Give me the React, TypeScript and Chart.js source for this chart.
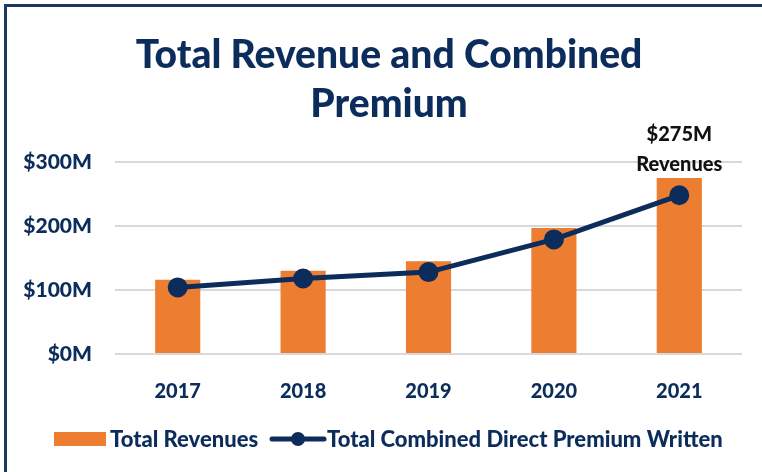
import React, { useEffect, useRef } from "react";
import { Chart, registerables } from "chart.js";

Chart.register(...registerables);

const years = ["2017", "2018", "2019", "2020", "2021"];
const totalRevenues = [116, 130, 145, 197, 275];
const combinedPremium = [104, 118, 128, 179, 248];
const yTicks = [0, 100, 200, 300];
const titleLines = ["Total Revenue and Combined", "Premium"];
const annotationLines = ["$275M", "Revenues"];
const legendLabels = ["Total Revenues", "Total Combined Direct Premium Written"];

const NAVY = "#0c2d5c";
const ORANGE = "#ed7d31";
const FONT = "Lato, 'Open Sans', sans-serif";
const W = "900";

const decorPlugin = {
  id: "decor",
  afterDraw(chart: any) {
    const ctx = chart.ctx;
    ctx.save();
    // Title
    ctx.fillStyle = NAVY;
    ctx.font = `${W} 39px ${FONT}`;
    ctx.textAlign = "center";
    ctx.textBaseline = "alphabetic";
    ctx.fillText(titleLines[0], 389, 68);
    ctx.fillText(titleLines[1], 389, 117);

    // Annotation above last bar
    const meta = chart.getDatasetMeta(0);
    const last = meta.data[meta.data.length - 1];
    ctx.fillStyle = "#111111";
    ctx.font = `${W} 20px ${FONT}`;
    ctx.fillText(annotationLines[0], last.x, last.y - 37);
    ctx.fillText(annotationLines[1], last.x, last.y - 7);

    // Legend
    const ly = 439;
    ctx.fillStyle = ORANGE;
    ctx.fillRect(54, 432, 52, 14);
    ctx.fillStyle = NAVY;
    ctx.font = `${W} 22px ${FONT}`;
    ctx.textAlign = "left";
    ctx.textBaseline = "middle";
    ctx.fillText(legendLabels[0], 110, ly + 1);
    ctx.strokeStyle = NAVY;
    ctx.lineWidth = 5;
    ctx.lineCap = "round";
    ctx.beginPath();
    ctx.moveTo(272, ly);
    ctx.lineTo(324, ly);
    ctx.stroke();
    ctx.beginPath();
    ctx.arc(298, ly, 7, 0, Math.PI * 2);
    ctx.fillStyle = NAVY;
    ctx.fill();
    ctx.fillText(legendLabels[1], 327, ly + 1);
    ctx.restore();
  },
};

export default function App() {
  const ref = useRef<HTMLCanvasElement>(null);
  useEffect(() => {
    if (!ref.current) return;
    const chart = new Chart(ref.current, {
      type: "bar",
      data: {
        labels: years,
        datasets: [
          {
            type: "bar",
            label: legendLabels[0],
            data: totalRevenues,
            backgroundColor: ORANGE,
            barPercentage: 0.36,
            categoryPercentage: 1,
            order: 2,
          },
          {
            type: "line",
            label: legendLabels[1],
            data: combinedPremium,
            borderColor: NAVY,
            backgroundColor: NAVY,
            borderWidth: 5,
            pointRadius: 7.5,
            pointBackgroundColor: NAVY,
            pointBorderColor: NAVY,
            tension: 0,
            order: 1,
          } as any,
        ],
      },
      options: {
        animation: false,
        responsive: false,
        layout: { padding: { top: 162, right: 20, left: 0, bottom: 0 } },
        plugins: {
          legend: { display: false },
          title: { display: false },
          tooltip: { enabled: false },
        },
        scales: {
          x: {
            grid: { display: false },
            border: { display: false },
            ticks: {
              color: NAVY,
              font: { family: FONT, weight: W as any, size: 20 },
              padding: 18,
            },
            afterFit(scale: any) {
              scale.height = 118;
            },
          },
          y: {
            min: 0,
            max: 300,
            afterBuildTicks(scale: any) {
              scale.ticks = yTicks.map((v) => ({ value: v }));
            },
            grid: { color: "#d9d9d9", lineWidth: 2, drawTicks: false },
            border: { display: false },
            ticks: {
              color: NAVY,
              font: { family: FONT, weight: W as any, size: 21 },
              padding: 23,
              callback: (v: any) => `$${v}M`,
            },
            afterFit(scale: any) {
              scale.width = 115;
            },
          },
        },
      },
      plugins: [decorPlugin],
    });
    return () => chart.destroy();
  }, []);

  return (
    <div style={{ position: "fixed", left: 0, top: 0, width: 762, height: 472, background: "#fff", overflow: "hidden" }}>
      <div
        style={{
          position: "absolute",
          left: 4,
          top: 4,
          width: 800,
          height: 520,
          borderLeft: `3px solid #1a3a66`,
          borderTop: `3px solid #1a3a66`,
        }}
      />
      <canvas ref={ref} width={762} height={472} style={{ position: "absolute", left: 0, top: 0 }} />
    </div>
  );
}
